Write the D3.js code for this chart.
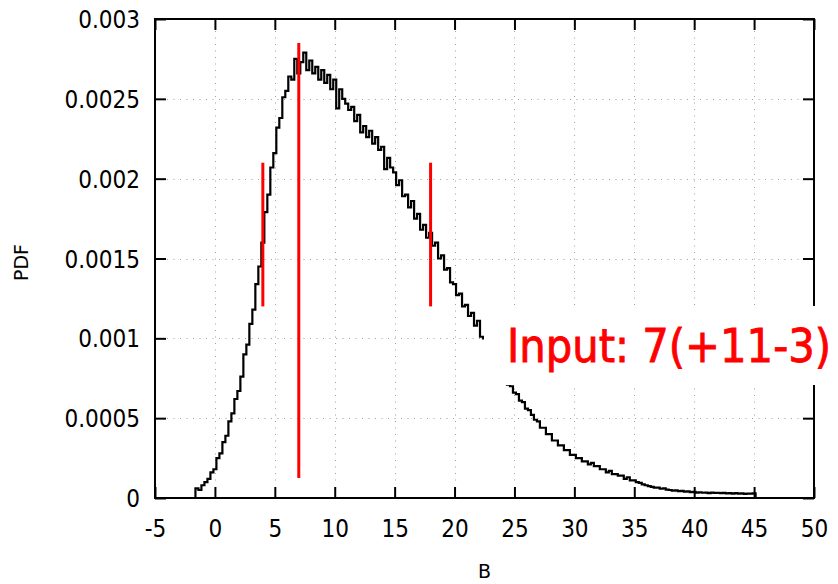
<!DOCTYPE html>
<html>
<head>
<meta charset="utf-8">
<script src="https://cdn.jsdelivr.net/npm/d3@7"></script>
<style>
  body { margin: 0; background: #fff; }
  svg { display: block; }
</style>
</head>
<body>
<svg id="drawing_region"></svg>
<script>
// histogram of B : bins of width 0.25 starting at -1.75, PDF values in units of 1e-5
const binStart = -1.75;
const binWidth = 0.25;
const pdfUnit = 1e-5;
const pdfValues = [
    0,   6,   5,   8,  10,  12,  16,  18,  25,  28,  35,  39,  48,  53,  62,  67,
   76,  90,  96, 109, 118, 134, 145, 160, 179, 190, 207, 216, 232, 238, 251, 255,
  264, 262, 275, 266, 273, 279, 268, 274, 266, 270, 262, 268, 260, 265, 256, 262,
  244, 256, 250, 247, 243, 245, 236, 240, 229, 233, 226, 230, 222, 226, 218, 220,
  206, 213, 207, 204, 196, 199, 189, 190, 182, 186, 175, 178, 168, 171, 163, 166,
  158, 160, 150, 152, 143, 144, 135, 134, 127, 128, 120, 121, 114, 116, 108, 111,
  101, 100,  95,  92,  88,  85,  81,  78,  74,  71,  70,  66,  65,  61,  60,  56,
   55,  52,  49,  48,  44,  44,  40,  40,  36,  36,  33,  33,  30,  30,  27,  27,
   25,  25,  23,  23,  21,  22,  20,  20,  18,  18,  16,  17,  15,  15,  14,  14,
   12,  13,  11,  11,  10, 9.5, 8.5,   8, 7.5,   7, 6.5, 6.5, 5.8,   6, 5.2,   5,
  4.6, 4.8, 4.3, 4.5,   4, 4.1, 3.7, 3.8, 3.4, 3.6, 3.3, 3.4, 3.1, 3.4, 3.2, 3.3,
  3.0, 3.2, 2.9, 3.1, 2.8, 3.0, 2.7, 2.9, 2.6, 2.8, 2.7, 2.9,   0
];

// red marker lines: central value and its +/- range
const markerB  = [4, 7, 18];
const markerLo = [0.0012, 0.000125, 0.0012];
const markerHi = [0.0021, 0.00285, 0.0021];

const xTicks = [-5, 0, 5, 10, 15, 20, 25, 30, 35, 40, 45, 50];
const yTicks = [0, 0.0005, 0.001, 0.0015, 0.002, 0.0025, 0.003];
const yTickLabels = ["0", "0.0005", "0.001", "0.0015", "0.002", "0.0025", "0.003"];

const xTitle = "B";
const yTitle = "PDF";
const note = "Input: 7(+11-3)";

var config = {
    parent: '#drawing_region',
    width: 838,
    height: 584,
    margin: {top:19, right:24, bottom:86, left:155}
};

const W = config.width, H = config.height, m = config.margin;
const innerW = W - m.left - m.right;
const innerH = H - m.top - m.bottom;

const svg = d3.select(config.parent)
    .attr('width', W)
    .attr('height', H);

const xScale = d3.scaleLinear().domain([-5, 50]).range([m.left, m.left + innerW]);
const yScale = d3.scaleLinear().domain([0, 0.003]).range([m.top + innerH, m.top]);

const tickFont = "'DejaVu Sans Condensed', 'DejaVu Sans', sans-serif";

// grid
const grid = svg.append('g')
    .attr('stroke', '#a0a0a0')
    .attr('stroke-width', 1)
    .attr('stroke-dasharray', '1,5.5');

grid.selectAll('.vgrid')
    .data(xTicks.slice(1, -1))
    .join('line')
    .attr('x1', d => Math.round(xScale(d)) + 0.5)
    .attr('x2', d => Math.round(xScale(d)) + 0.5)
    .attr('y1', m.top + 12)
    .attr('y2', m.top + innerH - 12);

grid.selectAll('.hgrid')
    .data(yTicks.slice(1, -1))
    .join('line')
    .attr('y1', d => Math.round(yScale(d)) + 0.5)
    .attr('y2', d => Math.round(yScale(d)) + 0.5)
    .attr('x1', m.left + 12)
    .attr('x2', m.left + innerW - 12);

// axes (inward ticks, mirrored on top / right)
const tickLen = 11;
const fmtY = d => yTickLabels[yTicks.indexOf(d)];
const fmtX = d => String(d);

const xAxisB = svg.append('g')
    .attr('transform', `translate(0, ${m.top + innerH})`)
    .call(d3.axisBottom(xScale).tickValues(xTicks).tickSize(-tickLen).tickPadding(22).tickFormat(fmtX));
const xAxisT = svg.append('g')
    .attr('transform', `translate(0, ${m.top})`)
    .call(d3.axisTop(xScale).tickValues(xTicks).tickSize(-tickLen).tickFormat(''));
const yAxisL = svg.append('g')
    .attr('transform', `translate(${m.left}, 0)`)
    .call(d3.axisLeft(yScale).tickValues(yTicks).tickSize(-tickLen).tickPadding(15).tickFormat(fmtY));
const yAxisR = svg.append('g')
    .attr('transform', `translate(${m.left + innerW}, 0)`)
    .call(d3.axisRight(yScale).tickValues(yTicks).tickSize(-tickLen).tickFormat(''));

[xAxisB, xAxisT, yAxisL, yAxisR].forEach(a => {
    a.select('.domain').remove();
    a.selectAll('line').attr('stroke', '#000').attr('stroke-width', 2);
    a.selectAll('text')
        .attr('font-family', tickFont)
        .attr('font-size', '24px')
        .attr('fill', '#000');
});
yAxisL.selectAll('text').attr('dy', '0.36em');

// histogram curve
const histData = pdfValues.map((v, i) => ({ b: binStart + i * binWidth, p: v * pdfUnit }));
const line = d3.line()
    .x(d => xScale(d.b))
    .y(d => yScale(d.p))
    .curve(d3.curveStep);

svg.append('path')
    .datum(histData)
    .attr('d', line)
    .attr('fill', 'none')
    .attr('stroke', '#000')
    .attr('stroke-width', 2.2);

// red markers
svg.selectAll('.marker')
    .data(markerB)
    .join('line')
    .attr('x1', d => xScale(d))
    .attr('x2', d => xScale(d))
    .attr('y1', (d, i) => yScale(markerLo[i]))
    .attr('y2', (d, i) => yScale(markerHi[i]))
    .attr('stroke', '#ff0000')
    .attr('stroke-width', 3);

// border
svg.append('rect')
    .attr('x', m.left)
    .attr('y', m.top)
    .attr('width', innerW)
    .attr('height', innerH)
    .attr('fill', 'none')
    .attr('stroke', '#000')
    .attr('stroke-width', 2);

// axis titles
svg.append('text')
    .attr('x', xScale(22.5))
    .attr('y', 578)
    .attr('text-anchor', 'middle')
    .attr('font-family', "'DejaVu Sans', sans-serif")
    .attr('font-size', '19px')
    .text(xTitle);

svg.append('text')
    .attr('transform', `translate(28, ${yScale(0.0015) + 4}) rotate(-90)`)
    .attr('text-anchor', 'middle')
    .attr('font-family', "'DejaVu Sans', sans-serif")
    .attr('font-size', '19px')
    .text(yTitle);

// annotation box
svg.append('rect')
    .attr('x', 484)
    .attr('y', 306)
    .attr('width', W - 484)
    .attr('height', 79)
    .attr('fill', '#fff');

svg.append('text')
    .attr('x', 507)
    .attr('y', 362)
    .attr('font-family', tickFont)
    .attr('font-size', '46px')
    .attr('fill', '#ff0000')
    .attr('stroke', '#ff0000')
    .attr('stroke-width', 0.8)
    .attr('textLength', 324)
    .attr('lengthAdjust', 'spacingAndGlyphs')
    .text(note);
</script>
</body>
</html>
